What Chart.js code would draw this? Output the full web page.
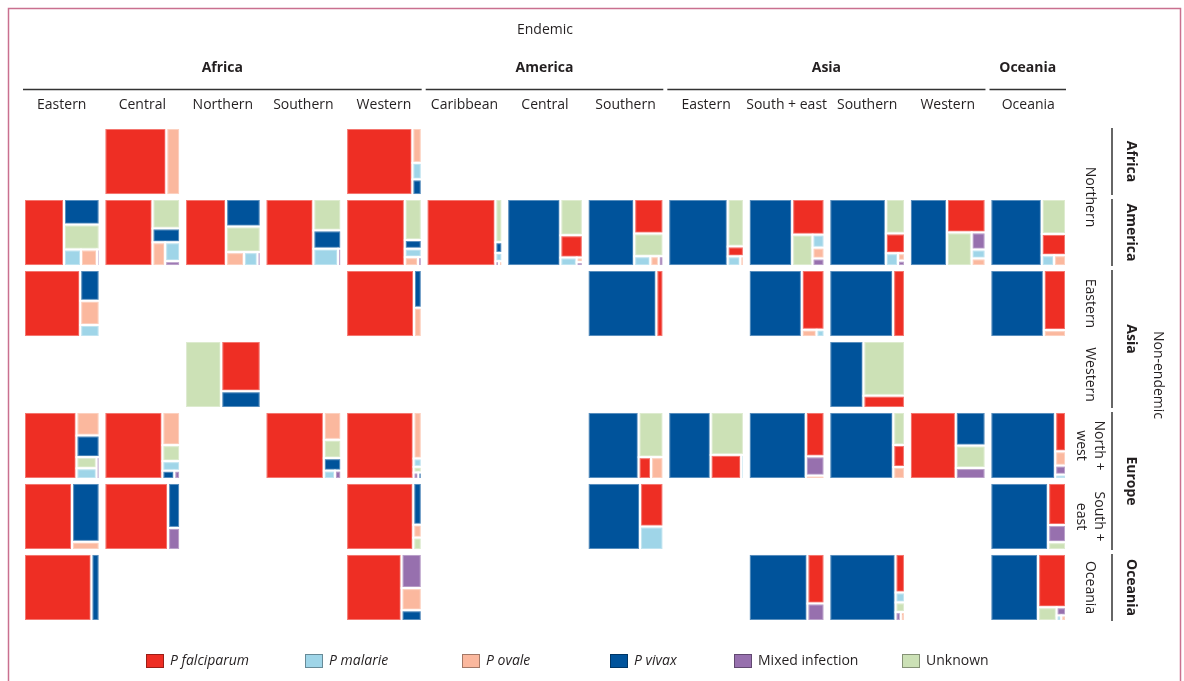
<!DOCTYPE html>
<html><head><meta charset="utf-8">
<script src="https://cdn.jsdelivr.net/npm/chart.js@4.4.0/dist/chart.umd.min.js"></script>
<style>html,body{margin:0;padding:0;background:#fff;}#wrap{position:relative;width:1184px;height:681px;}</style>
</head><body><div id="wrap"><canvas id="c" width="1184" height="681"></canvas></div>
<script>
// ---------- categories ----------
const endemicContinents = ['Africa', 'America', 'Asia', 'Oceania'];
const endemicContinentCols = [[0, 4], [5, 7], [8, 11], [12, 12]];
const endemicRegions = ['Eastern', 'Central', 'Northern', 'Southern', 'Western', 'Caribbean', 'Central', 'Southern', 'Eastern', 'South + east', 'Southern', 'Western', 'Oceania'];
const nonEndemicContinents = ['Africa', 'America', 'Asia', 'Europe', 'Oceania'];
const nonEndemicContinentRows = [[0, 0], [1, 1], [2, 3], [4, 5], [6, 6]];
const nonEndemicRegions = ['Northern', 'Northern', 'Eastern', 'Western', 'North +\nwest', 'South +\neast', 'Oceania'];
const species = ['P falciparum', 'P malarie', 'P ovale', 'P vivax', 'Mixed infection', 'Unknown'];

// ---------- cells (non-endemic row, endemic column) ----------
const cellRow = [0,0, 1,1,1,1,1,1,1,1,1,1,1,1,1, 2,2,2,2,2,2, 3,3, 4,4,4,4,4,4,4,4,4,4, 5,5,5,5,5, 6,6,6,6,6];
const cellCol = [1,4, 0,1,2,3,4,5,6,7,8,9,10,11,12, 0,4,7,9,10,12, 2,10, 0,1,3,4,7,8,9,10,11,12, 0,1,4,7,12, 0,4,9,10,12];

// ---------- series: share of cases per cell ----------
const falciparum = [.82,.877, .53,.636,.544,.634,.775,.907,.098,.198,.0315,.225,.073,.253,.102, .738,.895,.09,.266,.155,.263, .386,.1, .69,.76,.764,.886,.053,.145,.162,.05,.6,.083, .637,.842,.886,.2,.147, .895,.735,.165,.07,.293];
const malariae   = [0,.03, .055,.055,.037,.084,.028,.011,.027,.031,.024,.03,.03,.024,.026, .045,0,0,.011,0,0, 0,0, .042,.033,.018,.013,0,.012,0,0,0,.009, 0,0,0,.107,0, 0,0,0,.018,.005];
const ovale      = [.18,.063, .052,.059,.049,0,.023,.003,.0055,.016,.0064,.025,.01,.02,.025, .091,.044,0,.021,0,.03, 0,0, .106,.114,.094,.073,.052,0,.012,.027,0,.03, .044,0,.021,0,0, 0,.088,0,.007,.005];
const vivax      = [0,.028, .18,.075,.188,.1,.029,.014,.705,.615,.787,.57,.737,.487,.68, .116,.057,.91,.702,.845,.707, .128,.452, .097,.019,.042,.004,.67,.561,.755,.842,.194,.853, .319,.106,.068,.693,.76, .105,.042,.777,.868,.63];
const mixed      = [0,0, .008,.014,.008,.01,.006,.0032,.0045,.0085,0,.017,.007,.046,0, 0,0,0,0,0,0, 0,0, .012,.009,.01,.006,0,0,.07,0,.063,.019, 0,.052,0,0,.06, 0,.135,.058,.009,.015];
const unknown    = [0,0, .175,.16,.174,.172,.136,.057,.16,.13,.151,.125,.128,.163,.167, 0,0,0,0,0,0, .476,.448, .044,.055,.062,.009,.218,.28,0,.075,.129,0, 0,0,.02,0,.027, 0,0,0,.0175,.05];

const seriesValues = [falciparum, malariae, ovale, vivax, mixed, unknown];
const seriesColors = ['#EE2E24', '#9FD5E8', '#FBB89E', '#00539B', '#9770AE', '#CCE1B6'];
const seriesItalic = [true, true, true, true, false, false];

const CELL_W = 0.9375, CELL_H = 0.944;
const FONT = '"Open Sans", "Noto Sans", sans-serif';
const TXT = '#231f20';

function worst(row, side) {
  let s = 0, mx = -Infinity, mn = Infinity;
  row.forEach(r => { s += r.a; mx = Math.max(mx, r.a); mn = Math.min(mn, r.a); });
  return Math.max(side * side * mx / (s * s), (s * s) / (side * side * mn));
}
function squarify(items, rect) {
  const out = [];
  let rest = items.slice();
  let r = Object.assign({}, rect);
  while (rest.length) {
    const side = Math.min(r.w, r.h);
    const row = [rest[0]];
    let i = 1;
    while (i < rest.length && worst(row.concat([rest[i]]), side) <= worst(row, side)) { row.push(rest[i]); i++; }
    const s = row.reduce((a, b) => a + b.a, 0);
    if (r.w >= r.h) {
      const sw = s / r.h; let yy = r.y;
      row.forEach(it => { const hh = it.a / sw; out.push({x: r.x, y: yy, w: sw, h: hh, color: it.color}); yy += hh; });
      r = {x: r.x + sw, y: r.y, w: r.w - sw, h: r.h};
    } else {
      const sh = s / r.w; let xx = r.x;
      row.forEach(it => { const ww = it.a / sh; out.push({x: xx, y: r.y, w: ww, h: sh, color: it.color}); xx += ww; });
      r = {x: r.x, y: r.y + sh, w: r.w, h: r.h - sh};
    }
    rest = rest.slice(i);
  }
  return out;
}

const treemapPlugin = {
  id: 'treemapCells',
  afterDatasetsDraw(chart) {
    const {ctx} = chart; const xs = chart.scales.x, ys = chart.scales.y;
    const cells = {};
    chart.data.datasets.forEach((ds, di) => {
      ds.data.forEach(p => {
        if (!(p.v > 0)) return;
        const k = p.x + '_' + p.y;
        (cells[k] = cells[k] || {col: p.x, row: p.y, items: []}).items.push({v: p.v, color: ds.backgroundColor, di});
      });
    });
    ctx.save();
    Object.values(cells).forEach(c => {
      const x0 = xs.getPixelForValue(c.col), x1 = xs.getPixelForValue(c.col + CELL_W);
      const y0 = ys.getPixelForValue(c.row), y1 = ys.getPixelForValue(c.row + CELL_H);
      const W = x1 - x0, H = y1 - y0;
      const tot = c.items.reduce((a, b) => a + b.v, 0);
      const items = c.items.slice().sort((a, b) => (b.v - a.v) || (a.di - b.di)).map(it => ({a: it.v / tot * W * H, color: it.color}));
      squarify(items, {x: x0, y: y0, w: W, h: H}).forEach(r => {
        ctx.fillStyle = r.color;
        ctx.fillRect(r.x, r.y, r.w, r.h);
        ctx.strokeStyle = 'rgba(255,255,255,0.35)'; ctx.lineWidth = 1;
        ctx.strokeRect(r.x + 1.5, r.y + 1.5, r.w - 3, r.h - 3);
        ctx.strokeStyle = '#ffffff'; ctx.lineWidth = 2;
        ctx.strokeRect(r.x, r.y, r.w, r.h);
      });
    });
    ctx.restore();
  },
  afterDraw(chart) {
    const {ctx} = chart; const xs = chart.scales.x, ys = chart.scales.y;
    ctx.save();
    // frame
    ctx.strokeStyle = '#c9708f'; ctx.lineWidth = 1.5;
    ctx.beginPath(); ctx.moveTo(8.5, 681); ctx.lineTo(8.5, 8.5); ctx.lineTo(1180.5, 8.5); ctx.lineTo(1180.5, 681); ctx.stroke();
    ctx.fillStyle = TXT; ctx.textAlign = 'center'; ctx.textBaseline = 'middle';
    // top header
    ctx.font = '14px ' + FONT;
    ctx.fillText('Endemic', 545, 30);
    ctx.font = 'bold 14px ' + FONT;
    ctx.strokeStyle = '#333'; ctx.lineWidth = 1.5;
    endemicContinents.forEach((name, i) => {
      const [a, b] = endemicContinentCols[i];
      const xa = xs.getPixelForValue(a) - 1, xb = xs.getPixelForValue(b + CELL_W);
      ctx.fillText(name, (xa + xb) / 2, 68);
      ctx.beginPath(); ctx.moveTo(xa, 89.5); ctx.lineTo(xb, 89.5); ctx.stroke();
    });
    ctx.font = '14px ' + FONT;
    endemicRegions.forEach((name, i) => ctx.fillText(name, xs.getPixelForValue(i + CELL_W / 2), 105));
    // right header
    const lineX = 1112, contX = 1131, regX = 1090, nonX = 1158;
    function vtext(txt, x, y, font) {
      ctx.save(); ctx.translate(x, y); ctx.rotate(Math.PI / 2); ctx.font = font;
      const lines = txt.split('\n'); const lh = 18;
      lines.forEach((l, j) => ctx.fillText(l, 0, (j - (lines.length - 1) / 2) * lh));
      ctx.restore();
    }
    nonEndemicContinents.forEach((name, i) => {
      const [a, b] = nonEndemicContinentRows[i];
      const ya = ys.getPixelForValue(a), yb = ys.getPixelForValue(b + CELL_H);
      ctx.beginPath(); ctx.moveTo(lineX, ya); ctx.lineTo(lineX, yb); ctx.stroke();
      vtext(name, contX, (ya + yb) / 2, 'bold 14px ' + FONT);
    });
    // region labels (consecutive identical labels are merged)
    let i = 0;
    while (i < nonEndemicRegions.length) {
      let j = i;
      while (j + 1 < nonEndemicRegions.length && nonEndemicRegions[j + 1] === nonEndemicRegions[i]) j++;
      const ya = ys.getPixelForValue(i), yb = ys.getPixelForValue(j + CELL_H);
      vtext(nonEndemicRegions[i], regX, (ya + yb) / 2, '14px ' + FONT);
      i = j + 1;
    }
    vtext('Non-endemic', nonX, 375, '14px ' + FONT);
    // legend
    const legendX = [146, 305, 462, 610, 734, 902];
    const ly = 661;
    ctx.textAlign = 'left';
    chart.data.datasets.forEach((ds, k) => {
      const bx = legendX[k];
      ctx.fillStyle = ds.backgroundColor; ctx.fillRect(bx, ly - 7, 18, 14);
      ctx.strokeStyle = 'rgba(0,0,0,0.35)'; ctx.lineWidth = 1; ctx.strokeRect(bx + 0.5, ly - 6.5, 17, 13);
      ctx.fillStyle = TXT; ctx.font = (seriesItalic[k] ? 'italic ' : '') + '14px ' + FONT;
      ctx.fillText(ds.label, bx + 24, ly);
    });
    ctx.restore();
  }
};

const datasets = species.map((name, k) => ({
  label: name,
  backgroundColor: seriesColors[k],
  borderColor: seriesColors[k],
  pointRadius: 0,
  data: cellRow.map((r, n) => ({x: cellCol[n], y: r, v: seriesValues[k][n]}))
}));

new Chart(document.getElementById('c'), {
  type: 'scatter',
  data: {datasets},
  options: {
    responsive: false, animation: false, events: [],
    layout: {padding: {left: 24, top: 128, right: 1184 - 1066, bottom: 681 - 621}},
    plugins: {legend: {display: false}, tooltip: {enabled: false}},
    scales: {
      x: {type: 'linear', min: 0, max: 12 + CELL_W, display: false},
      y: {type: 'linear', min: 0, max: 6 + CELL_H, reverse: true, display: false}
    }
  },
  plugins: [treemapPlugin]
});
</script></body></html>
